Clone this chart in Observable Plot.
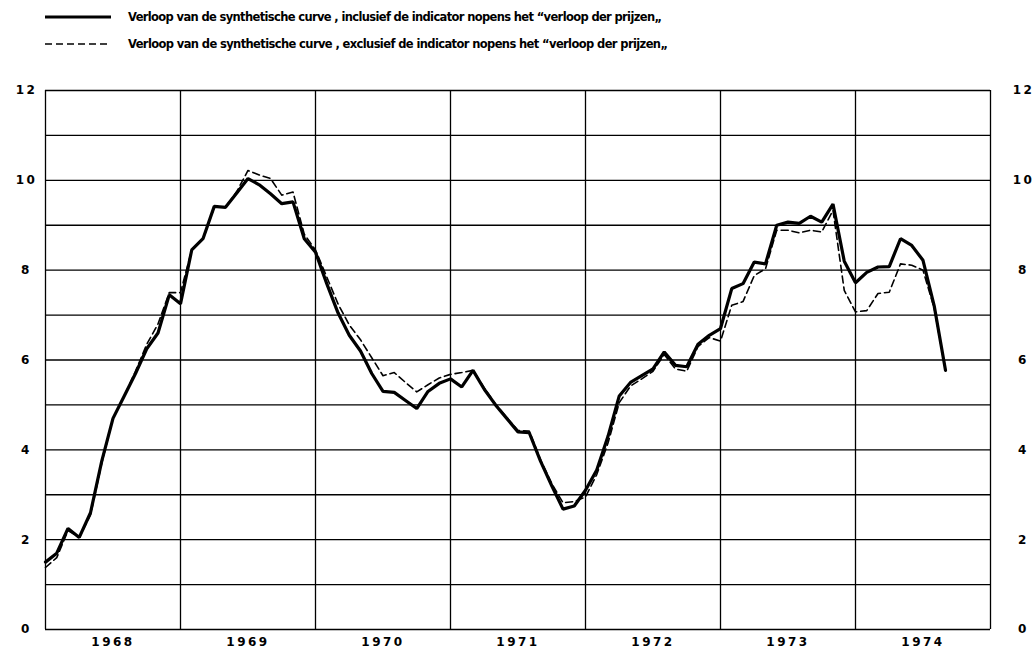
<!DOCTYPE html>
<html>
<head>
<meta charset="utf-8">
<script src="https://cdn.jsdelivr.net/npm/d3@7"></script>
<script src="https://cdn.jsdelivr.net/npm/@observablehq/plot@0.6"></script>
<style>
  html, body { margin: 0; padding: 0; background: #fff; }
  #legend { display: block; }
  #chart svg { display: block; }
  #chart g[aria-label$="tick label"] text { letter-spacing: 2.5px; }
</style>
</head>
<body>
<svg id="legend" width="1034" height="62"></svg>
<div id="chart"></div>
<script>
// ---- data (monthly, starting January 1968) ----
const startYear = 1968;
const inclusief = [
  1.5, 1.7, 2.25, 2.05, 2.6, 3.75, 4.7, 5.2, 5.7, 6.25, 6.6, 7.45,
  7.25, 8.45, 8.7, 9.42, 9.4, 9.72, 10.04, 9.9, 9.7, 9.48, 9.52, 8.7,
  8.4, 7.7, 7.05, 6.55, 6.2, 5.7, 5.3, 5.28, 5.1, 4.92, 5.3, 5.48,
  5.58, 5.4, 5.77, 5.35, 5.0, 4.7, 4.4, 4.38, 3.75, 3.2, 2.68, 2.75,
  3.1, 3.55, 4.3, 5.2, 5.5, 5.65, 5.8, 6.18, 5.88, 5.85, 6.35, 6.55,
  6.7, 7.59, 7.7, 8.18, 8.14, 9.0, 9.07, 9.04, 9.2, 9.07, 9.47, 8.2,
  7.72, 7.95, 8.07, 8.08, 8.7, 8.55, 8.22, 7.2, 5.77
];
const exclusief = [
  1.38, 1.6, 2.2, 2.05, 2.55, 3.7, 4.7, 5.2, 5.75, 6.35, 6.8, 7.5,
  7.5, 8.45, 8.7, 9.4, 9.4, 9.75, 10.22, 10.12, 10.04, 9.67, 9.74, 8.8,
  8.45, 7.85, 7.25, 6.78, 6.45, 6.05, 5.65, 5.72, 5.5, 5.29, 5.45, 5.6,
  5.68, 5.72, 5.77, 5.38, 5.02, 4.72, 4.43, 4.42, 3.78, 3.25, 2.82, 2.85,
  2.95, 3.45, 4.15, 5.05, 5.42, 5.58, 5.75, 6.12, 5.8, 5.75, 6.3, 6.5,
  6.42, 7.22, 7.3, 7.88, 8.03, 8.89, 8.89, 8.83, 8.89, 8.85, 9.33, 7.55,
  7.07, 7.1, 7.48, 7.51, 8.14, 8.11, 8.0, 7.15, 5.77
];
const yearLabels = ["1968", "1969", "1970", "1971", "1972", "1973", "1974"];
const yTickValues = [0, 2, 4, 6, 8, 10, 12];
const yGridValues = d3.range(0, 13);
const legendLabels = [
  "Verloop van de synthetische curve , inclusief de indicator nopens het \u201Cverloop der prijzen\u201E",
  "Verloop van de synthetische curve , exclusief de indicator nopens het \u201Cverloop der prijzen\u201E"
];

// ---- legend (HTML/SVG above the plot) ----
const FONT = "'DejaVu Sans', sans-serif";
const leg = d3.select("#legend");
const legendRows = [
  {y: 17, dash: null, width: 3, label: legendLabels[0], len: 534},
  {y: 44, dash: "7,4", width: 1.6, label: legendLabels[1], len: 540}
];
legendRows.forEach(r => {
  leg.append("line").attr("x1", 45).attr("x2", 111).attr("y1", r.y).attr("y2", r.y)
    .attr("stroke", "#000").attr("stroke-width", r.width)
    .attr("stroke-dasharray", r.dash);
  leg.append("text").attr("x", 128).attr("y", r.y).attr("dy", "0.35em")
    .attr("font-family", FONT).attr("font-weight", "bold").attr("font-size", 11.5)
    .attr("textLength", r.len).attr("lengthAdjust", "spacing")
    .text(r.label);
});

// ---- plot ----
const rows = inclusief.map((v, i) => ({t: startYear + i / 12, v}));
const rowsEx = exclusief.map((v, i) => ({t: startYear + i / 12, v}));
const yearCenters = yearLabels.map(y => +y + 0.5);

const axisStyle = {fontFamily: FONT, fontWeight: "bold", fontSize: 12, label: null};

const chart = Plot.plot({
  width: 1034,
  height: 596,
  marginTop: 28,
  marginBottom: 29,
  marginLeft: 45,
  marginRight: 44,
  style: {background: "#fff", color: "#000", fontFamily: FONT},
  x: {domain: [startYear, startYear + yearLabels.length], axis: null},
  y: {domain: [0, 12], axis: null},
  marks: [
    Plot.ruleY(yGridValues, {stroke: "#000", strokeWidth: 1.3}),
    Plot.ruleX(d3.range(startYear, startYear + yearLabels.length + 1), {stroke: "#000", strokeWidth: 1.3}),
    Plot.axisY(yTickValues, {anchor: "left", tickSize: 0, tickPadding: 19, textAnchor: "middle", ...axisStyle}),
    Plot.axisY(yTickValues, {anchor: "right", tickSize: 0, tickPadding: 33, textAnchor: "middle", ...axisStyle}),
    Plot.axisX(yearCenters, {anchor: "bottom", tickSize: 0, tickPadding: 8,
      tickFormat: (d, i) => yearLabels[i], ...axisStyle}),
    Plot.line(rowsEx, {x: "t", y: "v", stroke: "#000", strokeWidth: 1.6, strokeDasharray: "7,4"}),
    Plot.line(rows, {x: "t", y: "v", stroke: "#000", strokeWidth: 3.2, strokeLinejoin: "miter"})
  ]
});
document.getElementById("chart").appendChild(chart);
</script>
</body>
</html>
